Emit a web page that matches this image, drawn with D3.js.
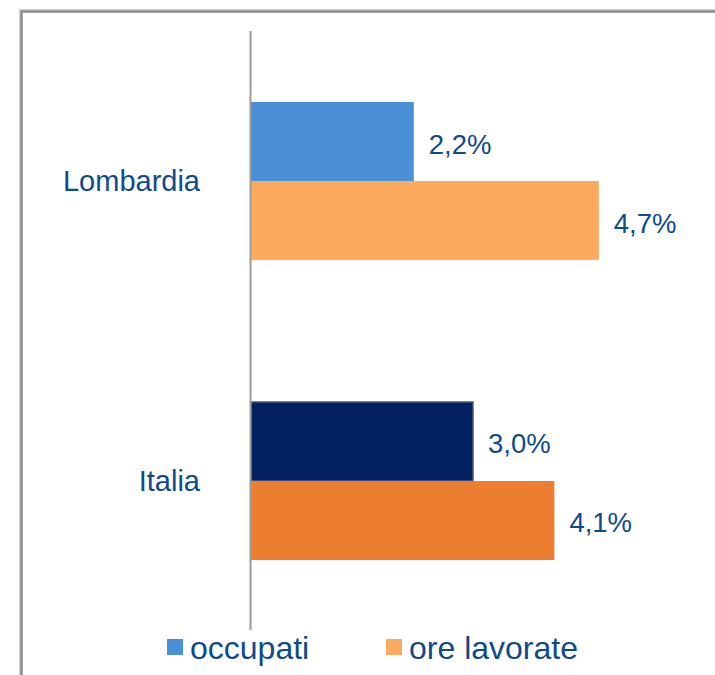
<!DOCTYPE html>
<html>
<head>
<meta charset="utf-8">
<script src="https://cdn.jsdelivr.net/npm/d3@7"></script>
<style>
  body { margin: 0; background: #fff; }
  svg { display: block; font-family: "Liberation Sans", Arial, sans-serif; }
</style>
</head>
<body>
<svg id="chart"></svg>
<script>
// data
var categories = ["Lombardia", "Italia"];
var seriesNames = ["occupati", "ore lavorate"];
var occupati = [2.2, 3.0];
var oreLavorate = [4.7, 4.1];
var valueLabels = [["2,2%", "4,7%"], ["3,0%", "4,1%"]];

const width = 715;
const height = 675;
const textColor = "#0e4a8c";

// colours per category: [occupati, ore lavorate]
var barColors = {
    "Lombardia": ["#4a90d9", "#fdaa5e"],
    "Italia": ["#002060", "#ed7d31"]
};
var legendColors = ["#4a90d9", "#fdaa5e"];

const svg = d3.select("#chart")
    .attr("width", width)
    .attr("height", height);

// outer frame (runs off the right and bottom edge)
svg.append("rect")
    .attr("x", 19.5).attr("y", 9.5)
    .attr("width", 760).attr("height", 720)
    .attr("fill", "none")
    .attr("stroke", "#cfcfcf")
    .attr("stroke-width", 1);
svg.append("rect")
    .attr("x", 21.5).attr("y", 11.5)
    .attr("width", 760).attr("height", 720)
    .attr("fill", "none")
    .attr("stroke", "#888888")
    .attr("stroke-width", 2.5);

var x = d3.scaleLinear()
    .domain([0, 6])
    .range([251, 251 + 74 * 6]);

var y = d3.scaleBand()
    .domain(categories)
    .range([31, 631])
    .paddingInner(0.4733)
    .paddingOuter(0.2367);

var ySub = d3.scaleBand()
    .domain(seriesNames)
    .range([0, y.bandwidth()]);

var rows = categories.map(function(c, i) {
    return [
        { cat: c, series: seriesNames[0], value: occupati[i], label: valueLabels[i][0], color: barColors[c][0] },
        { cat: c, series: seriesNames[1], value: oreLavorate[i], label: valueLabels[i][1], color: barColors[c][1] }
    ];
});
var bars = [].concat.apply([], rows);

svg.selectAll(".bar")
    .data(bars)
    .enter().append("rect")
    .attr("class", "bar")
    .attr("x", x(0))
    .attr("y", d => y(d.cat) + ySub(d.series))
    .attr("width", d => x(d.value) - x(0))
    .attr("height", ySub.bandwidth())
    .attr("fill", d => d.color)
    .attr("stroke", d => d.cat === "Italia" && d.series === "occupati" ? "#4a5b75" : "none")
    .attr("stroke-width", 1.5);

// value labels
svg.selectAll(".val")
    .data(bars)
    .enter().append("text")
    .attr("class", "val")
    .attr("x", d => x(d.value) + 15)
    .attr("y", d => y(d.cat) + ySub(d.series) + ySub.bandwidth() / 2 + 12)
    .attr("fill", textColor)
    .attr("font-size", 27.5)
    .text(d => d.label);

// category axis line
svg.append("line")
    .attr("x1", 250.5).attr("x2", 250.5)
    .attr("y1", y.range()[0]).attr("y2", y.range()[1] - 1)
    .attr("stroke", "#9b9b93")
    .attr("stroke-width", 2);

// category labels
svg.selectAll(".cat")
    .data(categories)
    .enter().append("text")
    .attr("class", "cat")
    .attr("x", 200)
    .attr("y", d => y(d) + y.bandwidth() / 2 + 10)
    .attr("text-anchor", "end")
    .attr("fill", textColor)
    .attr("font-size", 29)
    .text(d => d);

// legend
var legendX = [167, 386];
var legend = svg.selectAll(".legend")
    .data(seriesNames)
    .enter().append("g")
    .attr("class", "legend")
    .attr("transform", (d, i) => "translate(" + legendX[i] + ",639)");

legend.append("rect")
    .attr("width", 16)
    .attr("height", 16)
    .attr("fill", (d, i) => legendColors[i]);

legend.append("text")
    .attr("x", 23)
    .attr("y", 20)
    .attr("fill", textColor)
    .attr("font-size", 32)
    .text(d => d);
</script>
</body>
</html>
